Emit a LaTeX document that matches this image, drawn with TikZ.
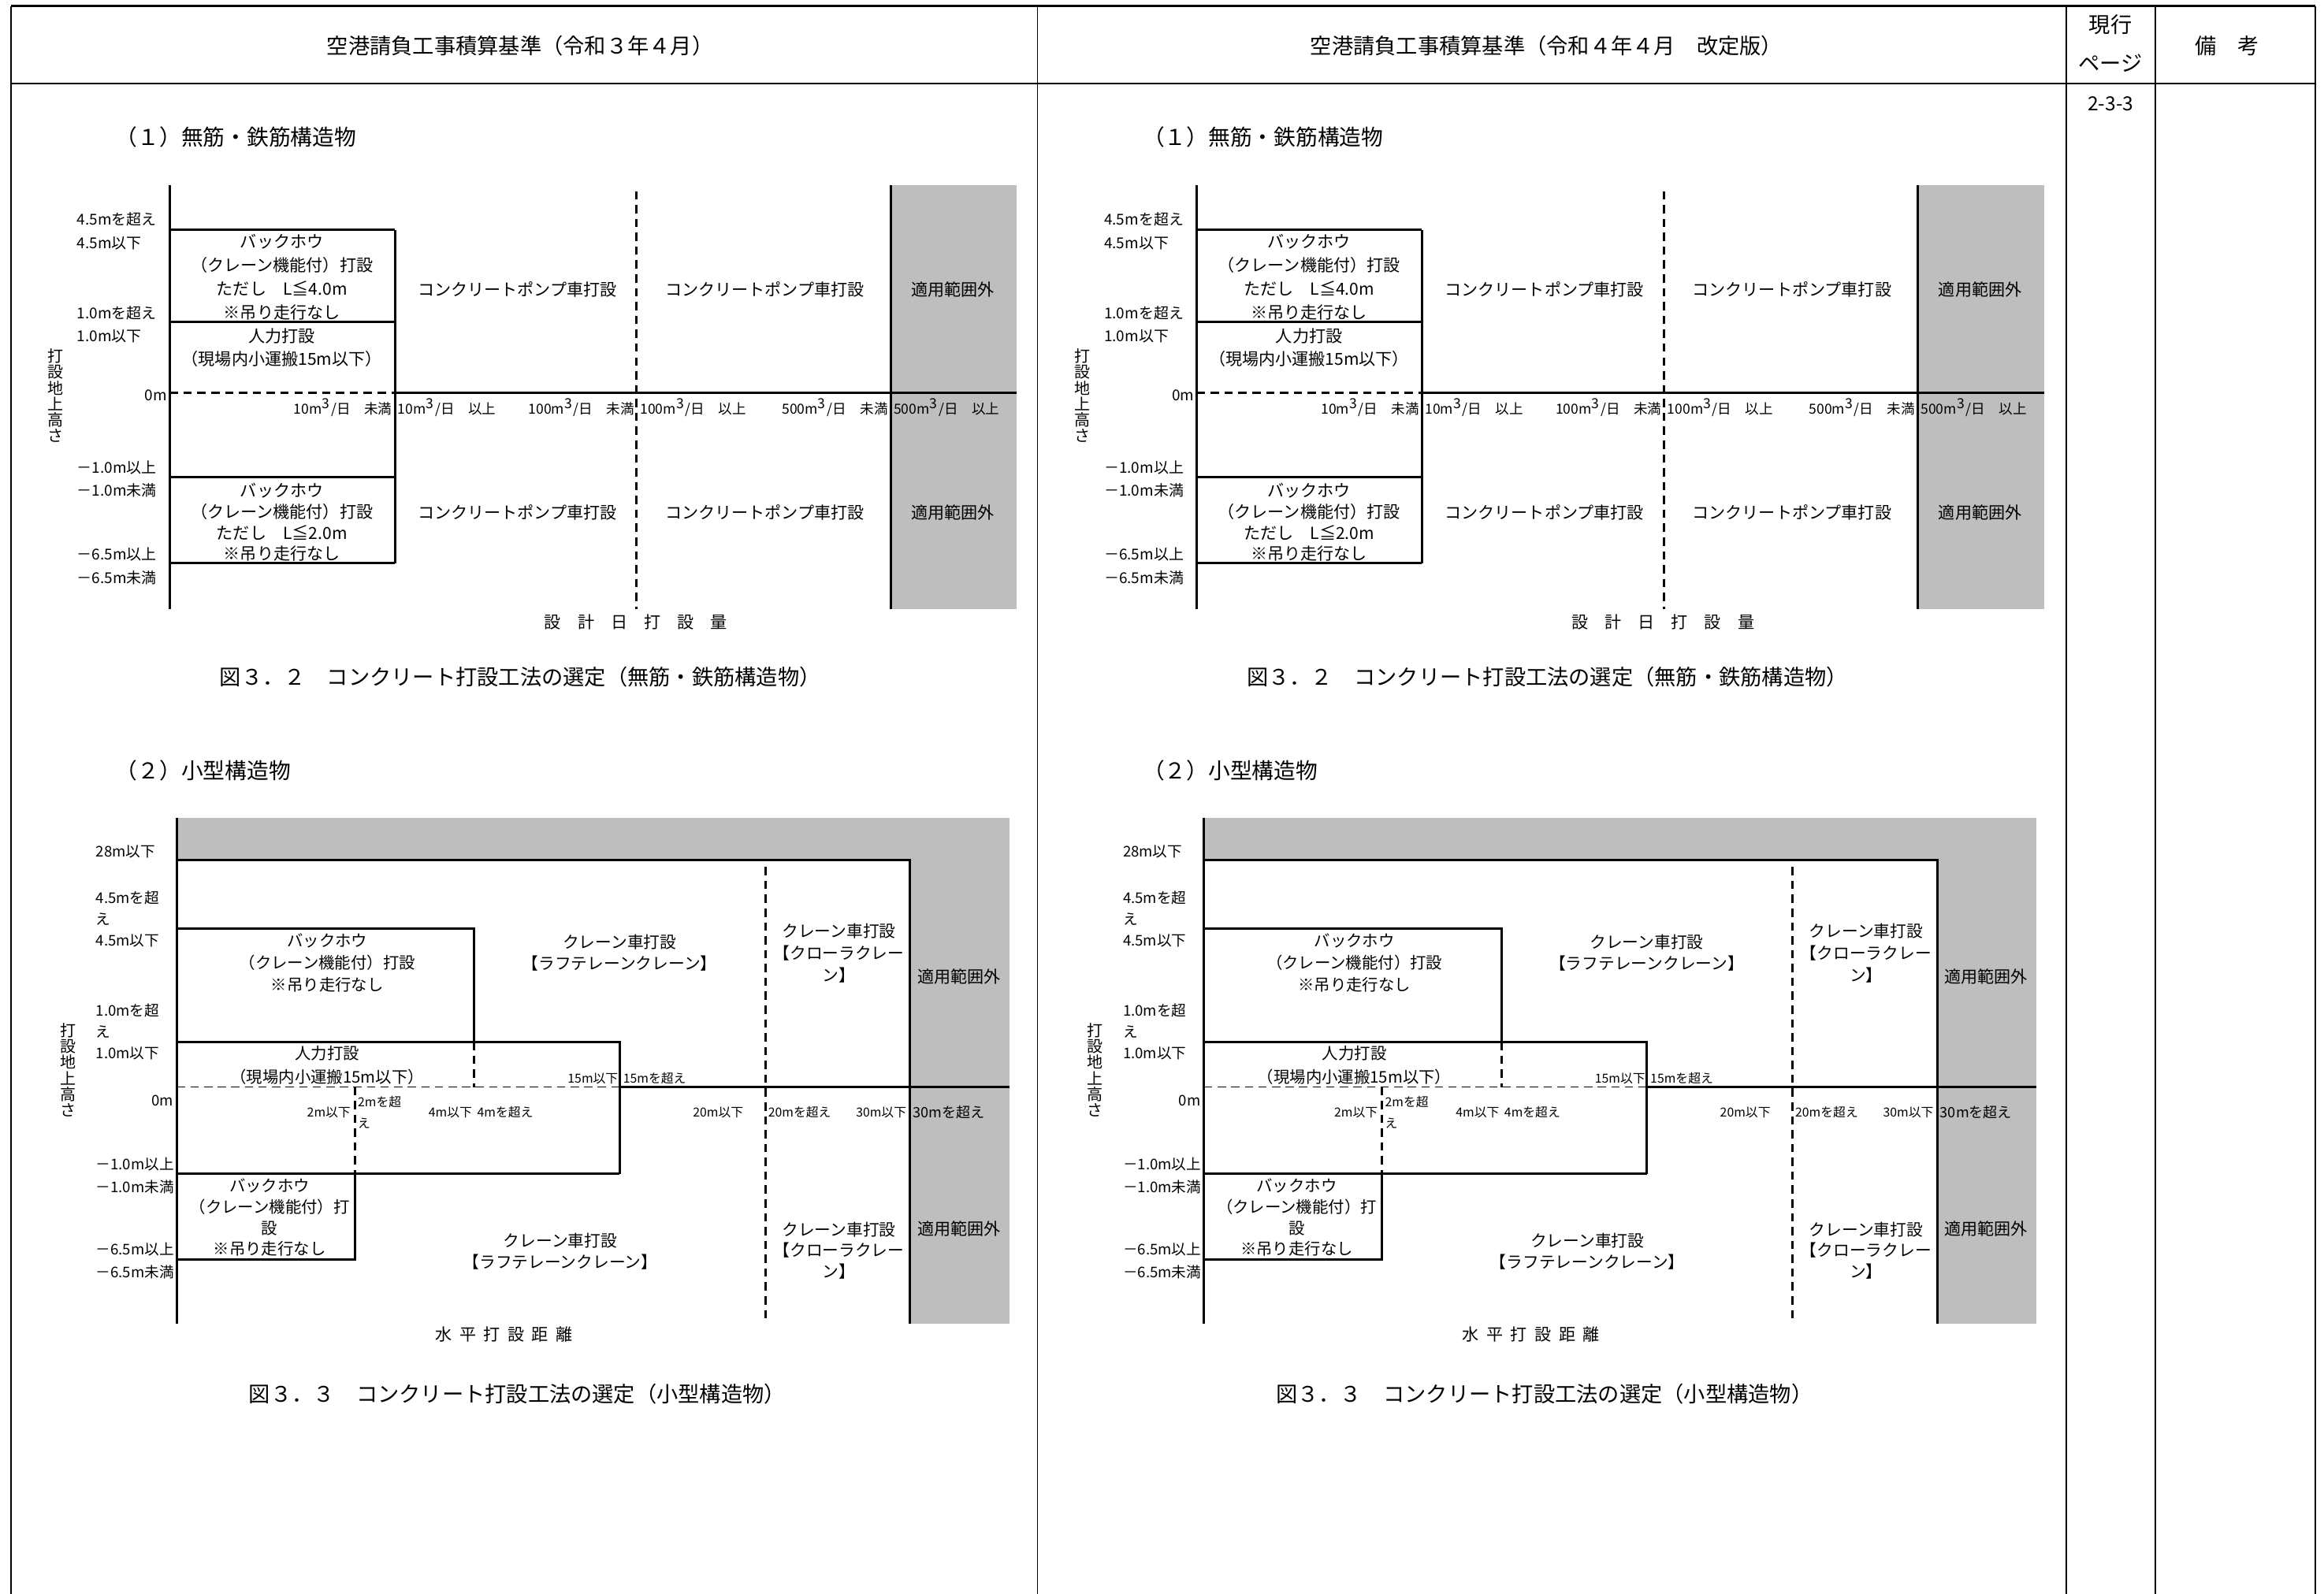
\documentclass[tikz,border=0pt]{standalone}
\usepackage{fontspec}
\setmainfont{Noto Sans CJK JP}
\definecolor{areagray}{RGB}{190,190,190}
\newcommand\fsz[2]{\fontsize{#1}{#2}\selectfont}
\newcommand\mthree{m\textsuperscript{3}}
\newcommand\spc{\hspace{0.45em}}
\tikzset{
  every node/.style={inner sep=0pt, outer sep=0pt},
  tline/.style={line width=0.6pt},
  vline/.style={line width=0.5pt},
  thk/.style={line width=0.85pt},
  dsh/.style={line width=0.85pt, dash pattern=on 3pt off 2pt},
  tdsh/.style={line width=0.4pt, dash pattern=on 3pt off 1.9pt},
  grayarea/.style={fill=areagray, draw=none},
  hdr/.style={font=\fsz{7.75}{9}},
  ttl/.style={font=\fsz{7.9}{10}, anchor=west},
  capn/.style={font=\fsz{7.75}{9}},
  body/.style={font=\fsz{6}{8}, align=center},
  bodyb/.style={font=\fsz{5.8}{8}, align=center},
  ylab/.style={font=\fsz{5.4}{7}, anchor=west},
  ylabb/.style={font=\fsz{5.3}{7.57}, anchor=west, align=left},
  xlab/.style={font=\fsz{5}{6}},
  slab/.style={font=\fsz{4.5}{7.6}},
  vlab/.style={font=\fsz{5.7}{5.75}, align=center},
}
\newcommand\panel[1]{%
  % ---------- chart 1 ----------
  \path[grayarea] (601,125) rectangle (686,411);
  \draw[thk] (114.5,125) -- (114.5,411);
  \draw[thk] (601,125) -- (601,411);
  \draw[dsh] (429.6,129) -- (429.6,411);
  \draw[thk] (114.5,155) -- (266.4,155);
  \draw[thk] (114.5,217) -- (266.4,217);
  \draw[thk] (114.5,322) -- (266.4,322);
  \draw[thk] (114.5,380) -- (266.4,380);
  \draw[thk] (266.4,155) -- (266.4,380);
  \draw[dsh] (114.5,265) -- (266.4,265);
  \draw[thk] (266.4,265) -- (686,265);
  \node[ttl] (#1t1) at (78,92.5) {（１）無筋・鉄筋構造物};
  \node[ylab] (#1a1) at (52,147.8) {4.5mを超え};
  \node[ylab] (#1a2) at (52,164) {4.5m以下};
  \node[ylab] (#1a3) at (52,211.4) {1.0mを超え};
  \node[ylab] (#1a4) at (52,227) {1.0m以下};
  \node[ylab, anchor=east] (#1a5) at (112.6,266.8) {0m};
  \node[ylab] (#1a6) at (52,315.7) {－1.0m以上};
  \node[ylab] (#1a7) at (52,331) {－1.0m未満};
  \node[ylab] (#1a8) at (52,374) {－6.5m以上};
  \node[ylab] (#1a9) at (52,389.7) {－6.5m未満};
  \node[vlab] (#1v1) at (37.3,267) {打\\設\\地\\上\\高\\さ};
  \node[body, font=\fsz{6}{8.53}] (#1b1) at (190.2,187.2) {バックホウ\\（クレーン機能付）打設\\ただし　L≦4.0m\\※吊り走行なし};
  \node[body, font=\fsz{6}{8.15}] (#1b2) at (190.2,234.7) {人力打設\\（現場内小運搬15m以下）};
  \node[body, font=\fsz{6}{7.62}] (#1b3) at (190.2,352.5) {バックホウ\\（クレーン機能付）打設\\ただし　L≦2.0m\\※吊り走行なし};
  \node[body] (#1c1) at (349,195.5) {コンクリートポンプ車打設};
  \node[body] (#1c2) at (516,195.5) {コンクリートポンプ車打設};
  \node[body] (#1c3) at (643,195.5) {適用範囲外};
  \node[body] (#1c4) at (349,346) {コンクリートポンプ車打設};
  \node[body] (#1c5) at (516,346) {コンクリートポンプ車打設};
  \node[body] (#1c6) at (643,346) {適用範囲外};
  \node[xlab, anchor=east] (#1x1) at (264.5,275) {10\mthree/日　未満};
  \node[xlab, anchor=west] (#1x2) at (268.5,275) {10\mthree/日　以上};
  \node[xlab, anchor=east] (#1x3) at (428,275) {100\mthree/日　未満};
  \node[xlab, anchor=west] (#1x4) at (432,275) {100\mthree/日　以上};
  \node[xlab, anchor=east] (#1x5) at (599,275) {500\mthree/日　未満};
  \node[xlab, anchor=west] (#1x6) at (603,275) {500\mthree/日　以上};
  \node[body] (#1d1) at (429,419.5) {設　計　日　打　設　量};
  \node[capn] (#1f1) at (351,457) {図３．２　コンクリート打設工法の選定（無筋・鉄筋構造物）};
  % ---------- chart 2 ----------
  \path[grayarea] (119.4,552) rectangle (681,580.5);
  \path[grayarea] (614,580.5) rectangle (681,893);
  \draw[thk] (119.4,552) -- (119.4,893);
  \draw[thk] (119.4,580.5) -- (614,580.5) -- (614,893);
  \draw[thk] (119.4,626.5) -- (320,626.5) -- (320,703);
  \draw[thk] (119.4,703) -- (418,703) -- (418,792);
  \draw[dsh] (320,703) -- (320,733.5);
  \draw[tdsh] (119.4,733.5) -- (418,733.5);
  \draw[thk] (418,733.5) -- (681,733.5);
  \draw[thk] (119.4,792) -- (418,792);
  \draw[dsh] (239.5,733.5) -- (239.5,792);
  \draw[thk] (119.4,850) -- (239.5,850) -- (239.5,792);
  \draw[dsh] (516.6,585) -- (516.6,893);
  \node[ttl] (#1t2) at (78,520) {（２）小型構造物};
  \node[ylabb] (#1e1) at (64.7,574.6) {28m以下};
  \node[ylabb] (#1e2) at (64.7,612.7) {4.5mを超\\え};
  \node[ylabb] (#1e3) at (64.7,634.8) {4.5m以下};
  \node[ylabb] (#1e4) at (64.7,688.8) {1.0mを超\\え};
  \node[ylabb] (#1e5) at (64.7,710.9) {1.0m以下};
  \node[ylabb, anchor=east] (#1e6) at (117,742.8) {0m};
  \node[ylabb] (#1e7) at (64.7,785.6) {－1.0m以上};
  \node[ylabb] (#1e8) at (64.7,801.2) {－1.0m未満};
  \node[ylabb] (#1e9) at (64.7,842.9) {－6.5m以上};
  \node[ylabb] (#1e10) at (64.7,858.5) {－6.5m未満};
  \node[vlab] (#1v2) at (46,722) {打\\設\\地\\上\\高\\さ};
  \node[bodyb] (#1g1) at (220.8,649.9) {バックホウ\\（クレーン機能付）打設\\※吊り走行なし};
  \node[bodyb, font=\fsz{5.8}{8.47}] (#1g2) at (220.8,718.9) {人力打設\\（現場内小運搬15m以下）};
  \node[bodyb, font=\fsz{5.8}{7.6}] (#1g3) at (181.9,821.6) {バックホウ\\（クレーン機能付）打\\設\\※吊り走行なし};
  \node[bodyb, font=\fsz{5.9}{7.7}] (#1g4) at (418,642.8) {クレーン車打設\\【ラフテレーンクレーン】};
  \node[bodyb, font=\fsz{5.9}{8}] (#1g5) at (566,643) {クレーン車打設\\【クローラクレー\\ン】};
  \node[body] (#1g6) at (647,659) {適用範囲外};
  \node[bodyb, font=\fsz{5.9}{7.7}] (#1g7) at (378,844.3) {クレーン車打設\\【ラフテレーンクレーン】};
  \node[bodyb, font=\fsz{5.9}{7.6}] (#1g8) at (566,843.8) {クレーン車打設\\【クローラクレー\\ン】};
  \node[body] (#1g9) at (647,829) {適用範囲外};
  \node[slab, anchor=east] (#1k1) at (417,727.6) {15m以下};
  \node[slab, anchor=west] (#1k2) at (420.5,727.6) {15mを超え};
  \node[slab, anchor=east] (#1k3) at (236.5,750.6) {2m以下};
  \node[slab, anchor=west, align=left] (#1k4) at (241.5,750.6) {2mを超\\え};
  \node[slab, anchor=east] (#1k5) at (318.5,750.6) {4m以下};
  \node[slab, anchor=west] (#1k6) at (322,750.6) {4mを超え};
  \node[slab, anchor=east] (#1k7) at (501.5,750.6) {20m以下};
  \node[slab, anchor=west] (#1k8) at (518.3,750.6) {20mを超え};
  \node[slab, anchor=east] (#1k9) at (611.5,750.6) {30m以下};
  \node[font=\fsz{5.15}{6}, anchor=west] (#1k10) at (616,750.6) {30mを超え};
  \node[body] (#1d2) at (340,900.5) {水\spc 平\spc 打\spc 設\spc 距\spc 離};
  \node[capn] (#1f2) at (349,940.5) {図３．３　コンクリート打設工法の選定（小型構造物）};
}
\begin{document}
\begin{tikzpicture}[x=0.18807mm, y=-0.18807mm]
  \useasboundingbox (0,0) rectangle (1568,1075.6);
  % table frame
  \draw[tline] (7.3,4) -- (1562,4);
  \draw[tline] (7.3,56.4) -- (1562,56.4);
  \draw[vline] (7.3,4) -- (7.3,1075.6);
  \draw[vline] (700,4) -- (700,1075.6);
  \draw[vline] (1394.2,4) -- (1394.2,1075.6);
  \draw[vline] (1454.2,4) -- (1454.2,1075.6);
  \draw[vline] (1562,4) -- (1562,1075.6);
  \node[hdr] (h1) at (351,31) {空港請負工事積算基準（令和３年４月）};
  \node[hdr] (h2) at (1043.5,31) {空港請負工事積算基準（令和４年４月　改定版）};
  \node[hdr] (h3a) at (1424,16.8) {現行};
  \node[hdr] (h3b) at (1424,42.5) {ページ};
  \node[hdr] (h4) at (1502.5,31) {備　考};
  \node[font=\fsz{7}{8}] (pg) at (1424,70) {2-3-3};
  \begin{scope}
    \panel{L}
  \end{scope}
  \begin{scope}[shift={(693,0)}]
    \panel{R}
  \end{scope}
\end{tikzpicture}
\end{document}
